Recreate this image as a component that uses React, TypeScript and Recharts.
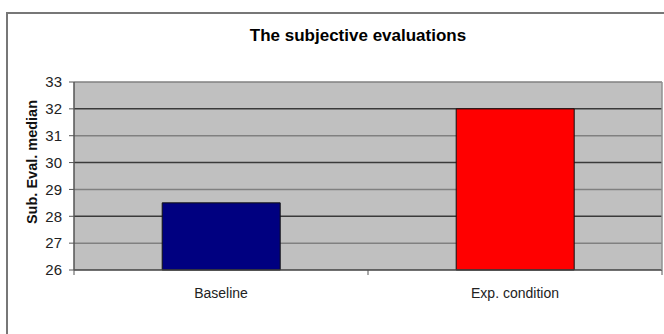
import React from "react";
import {
  Bar,
  BarChart,
  CartesianGrid,
  Cell,
  Label,
  XAxis,
  YAxis,
} from "recharts";

const conditions = ["Baseline", "Exp. condition"];
const medians = [28.5, 32];
const barColors = ["#000080", "#ff0000"];
const yTicks = [26, 27, 28, 29, 30, 31, 32, 33];
const darkLines = [28, 30, 32];
const lightLines = [27, 29, 31, 33];

const W = 664;
const H = 334;
const AXIS_W = 74;
const RIGHT_W = 2;
const BAND = (W - AXIS_W - RIGHT_W) / conditions.length;
const FONT = "'Liberation Sans', Arial, sans-serif";

const data = conditions.map((name, i) => ({ name, median: medians[i] }));

// category label centred in the band, tick marks on the band edges
const CategoryTick = (props: any) => {
  const { x, y, index, payload } = props;
  const left = x - BAND / 2;
  const isLast = index === conditions.length - 1;
  return (
    <g>
      <line x1={left} x2={left} y1={y} y2={y + 5} stroke="#555" />
      {isLast && (
        <line x1={x + BAND / 2} x2={x + BAND / 2} y1={y} y2={y + 5} stroke="#555" />
      )}
      <text
        x={x}
        y={y + 28}
        textAnchor="middle"
        fontFamily={FONT}
        fontSize={14}
        fill="#222"
      >
        {payload.value}
      </text>
    </g>
  );
};

const YTitle = (props: any) => {
  const { viewBox } = props;
  const cx = 32;
  const cy = viewBox.y + viewBox.height / 2 - 14;
  return (
    <text
      x={cx}
      y={cy}
      transform={`rotate(-90 ${cx} ${cy})`}
      textAnchor="middle"
      dominantBaseline="central"
      fontFamily={FONT}
      fontWeight="bold"
      fontSize={14.5}
      fill="#111"
    >
      Sub. Eval. median
    </text>
  );
};

export default function App() {
  return (
    <div
      style={{
        position: "absolute",
        left: 0,
        top: 0,
        width: W,
        height: H,
        overflow: "hidden",
        background: "#fff",
      }}
    >
      <div
        style={{
          position: "absolute",
          left: 6,
          top: 12,
          width: W + 20,
          height: H + 20,
          borderLeft: "2px solid #777",
          borderTop: "2px solid #777",
        }}
      />
      <div
        style={{
          position: "absolute",
          left: 0,
          top: 26,
          width: 716,
          textAlign: "center",
          fontFamily: FONT,
          fontWeight: "bold",
          fontSize: 17,
          color: "#000",
        }}
      >
        The subjective evaluations
      </div>
      <div style={{ position: "absolute", left: 0, top: 0 }}>
        <BarChart
          width={W}
          height={H}
          data={data}
          margin={{ top: 82, right: 0, bottom: 0, left: 0 }}
          barCategoryGap="30%"
        >
          <CartesianGrid
            vertical={false}
            horizontalValues={lightLines}
            fill="#c0c0c0"
            fillOpacity={1}
            stroke="#808080"
            strokeWidth={1.5}
          />
          <CartesianGrid
            vertical={false}
            horizontalValues={darkLines}
            stroke="#3a3a3a"
            strokeWidth={1.5}
          />
          <XAxis
            dataKey="name"
            height={64}
            axisLine={{ stroke: "#404040", strokeWidth: 1.5 }}
            tickLine={false}
            tickSize={0}
            tickMargin={0}
            tick={<CategoryTick />}
          />
          <YAxis
            width={AXIS_W}
            domain={[26, 33]}
            ticks={yTicks}
            interval={0}
            axisLine={{ stroke: "#555", strokeWidth: 1.5 }}
            tickLine={{ stroke: "#555" }}
            tickSize={5}
            tickMargin={7}
            tick={{ fontFamily: FONT, fontSize: 15, fill: "#222" }}
          >
            <Label content={<YTitle />} />
          </YAxis>
          <YAxis
            yAxisId="r"
            orientation="right"
            width={RIGHT_W}
            domain={[26, 33]}
            tick={false}
            tickLine={false}
            axisLine={{ stroke: "#909090", strokeWidth: 1.5 }}
          />
          <Bar dataKey="median" stroke="#111" strokeWidth={1} isAnimationActive={false}>
            {data.map((d, i) => (
              <Cell key={d.name} fill={barColors[i]} />
            ))}
          </Bar>
        </BarChart>
      </div>
    </div>
  );
}
